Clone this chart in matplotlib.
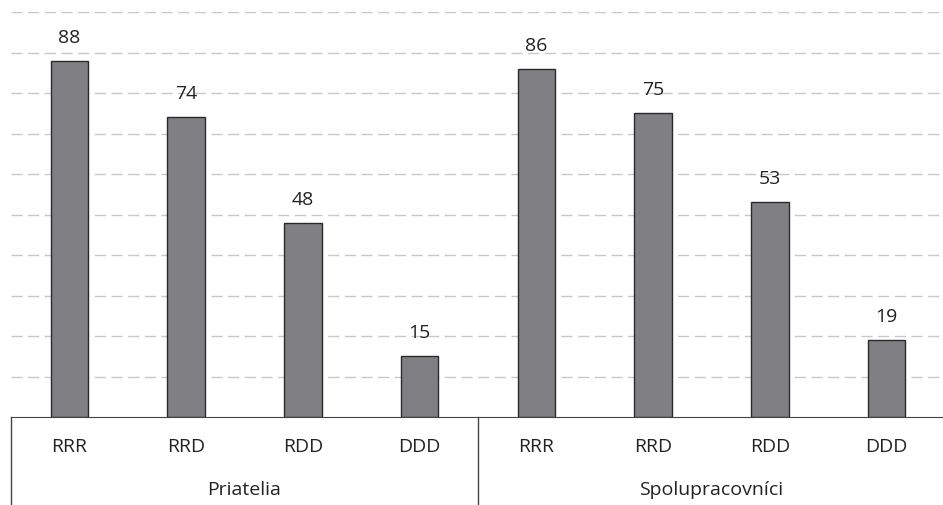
import matplotlib.pyplot as plt
import matplotlib.transforms as mtransforms

groups = ["Priatelia", "Spolupracovníci"]
categories = ["RRR", "RRD", "RDD", "DDD"]
values_priatelia = [88, 74, 48, 15]
values_spolu = [86, 75, 53, 19]

plt.rcParams['font.family'] = ['Open Sans', 'DejaVu Sans']

fig = plt.figure(figsize=(9.43, 5.05), dpi=100)
ax = fig.add_axes([11 / 943, 88 / 505, 934 / 943, 405 / 505])

values = values_priatelia + values_spolu
labels = categories + categories
x = list(range(len(values)))

ax.set_xlim(-0.5, len(values) - 0.5)
ax.set_ylim(0, 100)
ax.set_yticks(range(10, 101, 10))
ax.yaxis.grid(True, linestyle=(0, (8, 4)), color='#c8c8c8', linewidth=1)
ax.set_axisbelow(True)

ax.bar(x, values, width=0.32, color='#808084', edgecolor='#2a2a2a', linewidth=1)
for xi, v in zip(x, values):
    ax.annotate(str(v), (xi, v), xytext=(0, 10), textcoords='offset points',
                ha='center', va='bottom', fontsize=14, color='#222222')

for s in ['top', 'right', 'left']:
    ax.spines[s].set_visible(False)
ax.spines['bottom'].set_color('#444444')
ax.tick_params(axis='y', length=0, labelleft=False)
ax.set_xticks([])

trans = mtransforms.blended_transform_factory(ax.transData, ax.transAxes)
for xi, lab in zip(x, labels):
    ax.text(xi, -0.074, lab, transform=trans, ha='center', va='center',
            fontsize=14, color='#222222')

n = len(categories)
for gi, g in enumerate(groups):
    left = gi * n - 0.5
    ax.plot([left, left], [0, -0.22], transform=trans, color='#444444', linewidth=1, clip_on=False)
    ax.text(left + n / 2, -0.18, g, transform=trans, ha='center', va='center',
            fontsize=14, color='#222222')

fig.savefig('out.png', dpi=100)
